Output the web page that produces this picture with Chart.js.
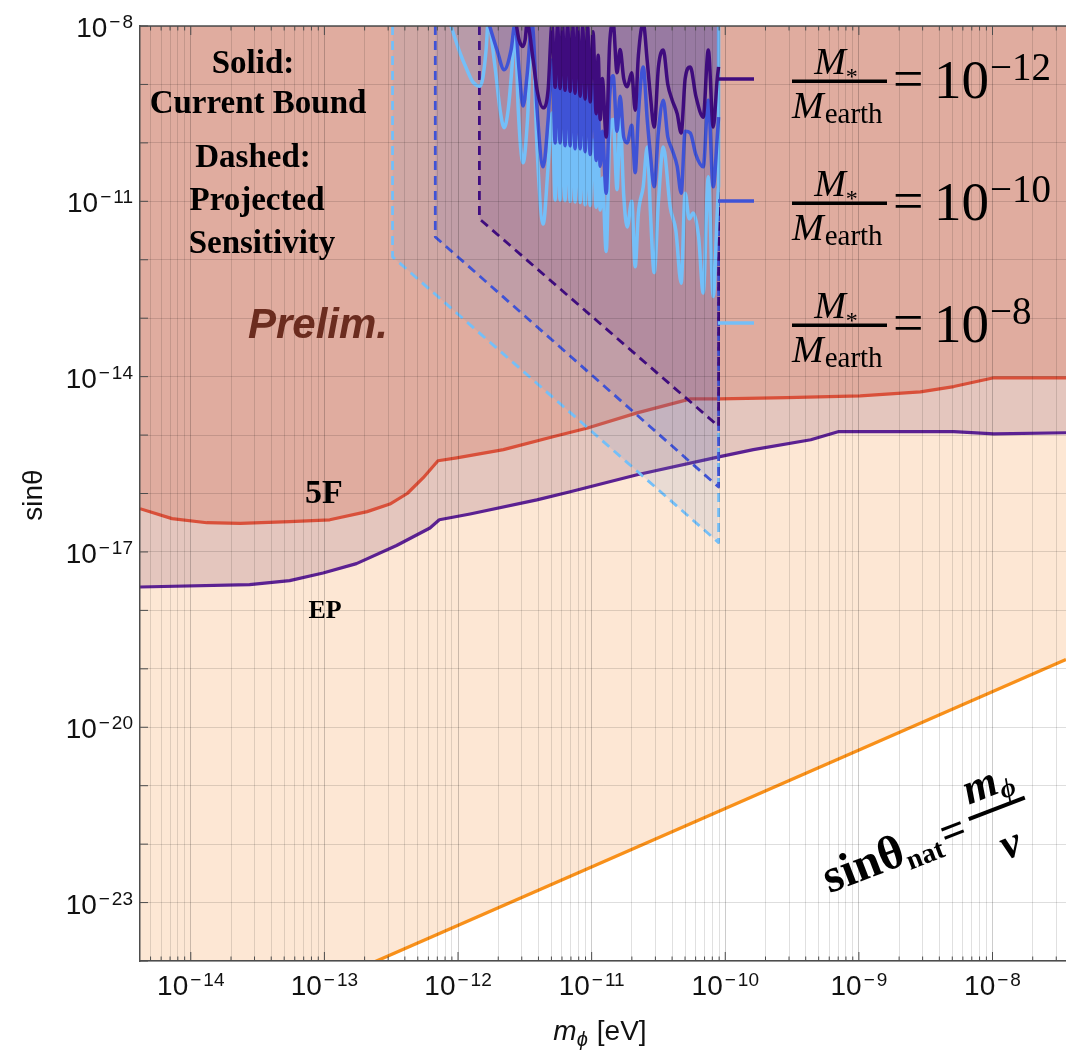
<!DOCTYPE html>
<html>
<head>
<meta charset="utf-8">
<script src="https://cdn.jsdelivr.net/npm/chart.js@4.4.0/dist/chart.umd.min.js"></script>
<style>
  html, body { margin: 0; padding: 0; background: #fff; }
</style>
</head>
<body>
<canvas id="bounds" width="1066" height="1054"></canvas>
<script>
// all values are log10 of (m_phi [eV], sin theta)
const xRangeExp = [-14.38, -7.45];
const yRangeExp = [-24, -8];
const xLabelExps = [-14, -13, -12, -11, -10, -9, -8];
const yLabelExps = [-8, -11, -14, -17, -20, -23];

// fifth force (5F) bound
const fifthForce = [[-14.38,-16.26],[-14.14,-16.43],[-13.88,-16.50],[-13.63,-16.51],[-13.26,-16.48],
  [-12.96,-16.45],[-12.68,-16.31],[-12.51,-16.18],[-12.38,-16.00],[-12.26,-15.73],[-12.15,-15.44],
  [-12.01,-15.39],[-11.66,-15.25],[-11.29,-15.03],[-11.03,-14.88],[-10.66,-14.62],[-10.26,-14.38],
  [-10.04,-14.38],[-9.54,-14.36],[-8.99,-14.33],[-8.54,-14.26],[-8.29,-14.17],[-7.99,-14.02],[-7.45,-14.02]];

// equivalence principle (EP) bound
const equivPrinciple = [[-14.38,-17.60],[-13.56,-17.56],[-13.26,-17.49],[-13.01,-17.36],[-12.76,-17.20],
  [-12.46,-16.89],[-12.21,-16.59],[-12.14,-16.45],[-11.91,-16.35],[-11.41,-16.11],[-11.16,-15.97],
  [-10.66,-15.68],[-10.04,-15.37],[-9.79,-15.25],[-9.36,-15.08],[-9.15,-14.94],[-8.29,-14.94],
  [-7.99,-14.98],[-7.45,-14.96]];

// sin(theta)_nat = m_phi / v
const naturalLine = [[-14.38,-25.77],[-7.45,-18.84]];

// projected sensitivity (dashed)
const projected8 = [[-12.49,-8],[-12.49,-11.95],[-10.05,-16.84],[-10.05,-8]];
const projected10 = [[-12.17,-8],[-12.17,-11.61],[-10.05,-15.89],[-10.05,-8]];
const projected12 = [[-11.84,-8],[-11.84,-11.30],[-10.05,-14.85],[-10.05,-8]];

// current bounds (solid)
const current8 = [[-12.06,-7.95],[-11.985,-8.46],[-11.933,-8.75],[-11.888,-8.96],[-11.835,-9.03],[-11.813,-8.87],
  [-11.79,-8.41],[-11.775,-7.95],[-11.723,-8.70],[-11.685,-9.44],[-11.655,-9.74],[-11.625,-9.44],[-11.596,-8.70],
  [-11.573,-7.95],[-11.55,-9.40],[-11.513,-10.34],[-11.48,-9.60],[-11.446,-7.95],[-11.408,-10.12],[-11.363,-11.39],
  [-11.326,-10.41],[-11.296,-9.49],[-11.273,-10.98],[-11.255,-9.75],[-11.236,-10.98],[-11.218,-9.80],[-11.199,-10.99],
  [-11.18,-9.80],[-11.161,-11.00],[-11.142,-9.85],[-11.124,-11.01],[-11.105,-9.90],[-11.086,-11.02],[-11.067,-9.90],
  [-11.049,-11.06],[-11.03,-9.95],[-11.011,-11.07],[-10.99,-9.95],[-10.966,-11.10],[-10.951,-10.30],[-10.936,-11.15],
  [-10.92,-10.60],[-10.891,-11.86],[-10.865,-9.90],[-10.839,-9.60],[-10.81,-10.80],[-10.787,-9.60],[-10.76,-10.90],
  [-10.734,-11.44],[-10.70,-11.00],[-10.674,-12.12],[-10.65,-11.20],[-10.614,-10.75],[-10.584,-10.07],[-10.56,-11.20],
  [-10.532,-12.22],[-10.50,-11.00],[-10.464,-10.07],[-10.412,-11.10],[-10.37,-11.50],[-10.33,-12.40],[-10.30,-10.86],
  [-10.27,-11.30],[-10.24,-11.20],[-10.20,-11.60],[-10.165,-12.57],[-10.127,-10.58],[-10.09,-12.63],[-10.06,-11.20],
  [-10.05,-10.75],[-10.05,-7.95]];

const current10 = [[-11.77,-7.95],[-11.708,-8.41],[-11.655,-8.75],[-11.603,-8.41],[-11.573,-7.95],
  [-11.543,-8.75],[-11.513,-9.37],[-11.483,-8.84],[-11.446,-7.95],[-11.408,-9.44],[-11.363,-10.41],[-11.326,-9.61],
  [-11.296,-8.58],[-11.273,-10.00],[-11.255,-8.70],[-11.236,-10.00],[-11.218,-8.75],[-11.199,-10.05],[-11.18,-8.80],
  [-11.161,-10.05],[-11.142,-8.85],[-11.124,-10.10],[-11.105,-8.90],[-11.086,-10.10],[-11.067,-8.90],[-11.049,-10.15],
  [-11.03,-8.95],[-11.011,-10.20],[-10.99,-9.00],[-10.966,-10.30],[-10.951,-9.30],[-10.936,-10.40],[-10.92,-9.80],
  [-10.891,-10.86],[-10.865,-9.20],[-10.839,-8.85],[-10.81,-9.80],[-10.787,-9.20],[-10.76,-9.90],[-10.734,-10.00],
  [-10.70,-9.70],[-10.674,-10.51],[-10.65,-9.50],[-10.614,-8.70],[-10.584,-9.60],[-10.56,-10.20],[-10.532,-10.75],
  [-10.50,-9.80],[-10.464,-9.27],[-10.43,-9.90],[-10.397,-10.12],[-10.36,-10.40],[-10.33,-10.86],[-10.30,-9.80],
  [-10.262,-9.83],[-10.22,-10.20],[-10.165,-10.41],[-10.127,-9.27],[-10.09,-10.75],[-10.06,-9.90],[-10.05,-9.56]];

const current12 = [[-11.566,-7.95],[-11.543,-8.24],[-11.515,-8.35],[-11.498,-8.24],[-11.483,-7.95],
  [-11.438,-8.58],[-11.408,-9.10],[-11.363,-9.40],[-11.326,-9.10],[-11.296,-7.95],[-11.273,-9.05],[-11.255,-7.95],
  [-11.236,-9.07],[-11.218,-7.95],[-11.199,-9.10],[-11.18,-7.95],[-11.161,-9.12],[-11.142,-7.95],[-11.124,-9.15],
  [-11.105,-7.95],[-11.086,-9.20],[-11.067,-8.00],[-11.049,-9.25],[-11.03,-8.00],[-11.011,-9.30],[-10.99,-8.10],
  [-10.966,-9.50],[-10.951,-8.50],[-10.936,-9.60],[-10.92,-8.90],[-10.891,-9.90],[-10.865,-8.30],[-10.839,-7.95],
  [-10.81,-8.80],[-10.787,-8.40],[-10.76,-8.90],[-10.734,-9.04],[-10.70,-8.80],[-10.674,-9.44],[-10.65,-8.50],
  [-10.614,-7.95],[-10.584,-8.60],[-10.56,-9.20],[-10.532,-9.73],[-10.50,-8.70],[-10.464,-8.41],[-10.43,-9.00],
  [-10.397,-9.27],[-10.36,-9.50],[-10.33,-9.83],[-10.30,-8.90],[-10.262,-8.70],[-10.22,-9.20],[-10.165,-9.56],
  [-10.127,-8.41],[-10.09,-9.73],[-10.06,-8.90],[-10.05,-8.70]];

const legendExps = [-12, -10, -8];

const C_PURPLE = '#3f0c7e', C_BLUE = '#3f53d6', C_LIGHT = '#74bff8';
const SANS = '"Liberation Sans", Arial, sans-serif';
const SERIF = '"Liberation Serif", "Times New Roman", serif';

const toPts = arr => arr.map(([a, b]) => ({ x: Math.pow(10, a), y: Math.pow(10, b) }));
const isDecade = v => { const l = Math.log10(v); return Math.abs(l - Math.round(l)) < 1e-6; };

const xTicks = [];
for (let d = -15; d <= -8; d++) {
  for (let k = 1; k <= 9; k++) {
    const v = k * Math.pow(10, d);
    if (v >= Math.pow(10, xRangeExp[0]) && v <= Math.pow(10, xRangeExp[1])) xTicks.push(v);
  }
}
const yTicks = [];
for (let d = yRangeExp[0]; d <= yRangeExp[1]; d++) yTicks.push(Math.pow(10, d));

function line(data, color, width, extra) {
  return Object.assign({
    data: toPts(data), borderColor: color, borderWidth: width, pointRadius: 0,
    tension: 0, fill: false, borderJoinStyle: 'round'
  }, extra || {});
}

// draw a run of text pieces left to right
function runWidth(ctx, parts) {
  let w = 0;
  parts.forEach(p => { ctx.font = p.font; w += ctx.measureText(p.t).width + (p.gap || 0); });
  return w;
}
function run(ctx, parts, x, y) {
  ctx.textAlign = 'left';
  parts.forEach(p => {
    ctx.font = p.font;
    ctx.fillText(p.t, x, y + (p.dy || 0));
    x += ctx.measureText(p.t).width + (p.gap || 0);
  });
}

const decor = {
  id: 'decor',
  afterDraw(chart) {
    const { ctx, chartArea: a, scales: { x, y } } = chart;
    ctx.save();
    ctx.textBaseline = 'alphabetic';

    // frame top + inward ticks
    ctx.strokeStyle = '#4d4d4d';
    ctx.lineWidth = 1.5;
    ctx.beginPath(); ctx.moveTo(a.left, a.top); ctx.lineTo(a.right, a.top); ctx.stroke();
    ctx.lineWidth = 1;
    xTicks.forEach(v => {
      const px = x.getPixelForValue(v);
      const len = isDecade(v) ? 9 : 4.5;
      ctx.beginPath();
      ctx.moveTo(px, a.bottom); ctx.lineTo(px, a.bottom - len);
      ctx.moveTo(px, a.top); ctx.lineTo(px, a.top + len);
      ctx.stroke();
    });
    yTicks.forEach(v => {
      const py = y.getPixelForValue(v);
      ctx.beginPath(); ctx.moveTo(a.left, py); ctx.lineTo(a.left + 8, py); ctx.stroke();
    });

    // tick labels 10^n
    ctx.fillStyle = '#111';
    const baseFont = '28px ' + SANS, supFont = '19px ' + SANS;
    const powParts = e => [
      { t: '10', font: baseFont, dy: 0, gap: 2 },
      { t: '\u2212', font: supFont, dy: -9, gap: 2 },
      { t: String(Math.abs(e)), font: supFont, dy: -9 }
    ];
    xLabelExps.forEach(e => {
      const px = x.getPixelForValue(Math.pow(10, e));
      const parts = powParts(e);
      run(ctx, parts, px - runWidth(ctx, parts) / 2, a.bottom + 34);
    });
    yLabelExps.forEach(e => {
      const py = y.getPixelForValue(Math.pow(10, e));
      const parts = powParts(e);
      run(ctx, parts, a.left - 7 - runWidth(ctx, parts), py + 11);
    });

    // axis titles
    const xt = [
      { t: 'm', font: 'italic 28px ' + SANS },
      { t: '\u03d5', font: 'italic 20px ' + SANS, dy: 6, gap: 9 },
      { t: '[eV]', font: '28px ' + SANS }
    ];
    run(ctx, xt, 600 - runWidth(ctx, xt) / 2, 1040);
    ctx.save();
    ctx.translate(42, 495);
    ctx.rotate(-Math.PI / 2);
    ctx.font = '28px ' + SANS;
    ctx.textAlign = 'center';
    ctx.fillText('sin\u03b8', 0, 0);
    ctx.restore();

    // annotations
    ctx.fillStyle = '#000';
    ctx.textAlign = 'center';
    ctx.font = 'bold 33px ' + SERIF;
    ctx.fillText('Solid:', 253, 73);
    ctx.fillText('Current Bound', 258, 113);
    ctx.fillText('Dashed:', 253, 167);
    ctx.fillText('Projected', 257, 210);
    ctx.fillText('Sensitivity', 262, 253);
    ctx.fillStyle = '#6b2c1f';
    ctx.font = 'italic bold 42px ' + SANS;
    ctx.fillText('Prelim.', 318, 338);
    ctx.fillStyle = '#000';
    ctx.font = 'bold 34px ' + SERIF;
    ctx.fillText('5F', 324, 503);
    ctx.font = 'bold 26px ' + SERIF;
    ctx.fillText('EP', 325, 618);

    // sin(theta)_nat = m_phi / v, along the orange line
    ctx.save();
    ctx.translate(953, 831);
    ctx.rotate(-21 * Math.PI / 180);
    ctx.font = 'bold 44px ' + SERIF;
    ctx.textAlign = 'center';
    ctx.fillText('=', 0, 14);
    const lhs = [{ t: 'sin\u03b8', font: 'bold 48px ' + SERIF }, { t: 'nat', font: 'bold 28px ' + SERIF, dy: 7 }];
    run(ctx, lhs, -15 - runWidth(ctx, lhs), 14);
    ctx.fillRect(19, -7.5, 60, 4);
    const num = [{ t: 'm', font: 'italic bold 44px ' + SERIF }, { t: '\u03d5', font: 'italic bold 27px ' + SERIF, dy: 7 }];
    run(ctx, num, 49 - runWidth(ctx, num) / 2, -19);
    ctx.font = 'italic bold 44px ' + SERIF;
    ctx.textAlign = 'center';
    ctx.fillText('v', 49, 46);
    ctx.restore();

    // legend
    const rows = [79, 201, 323];
    const colors = [C_PURPLE, C_BLUE, C_LIGHT];
    rows.forEach((y0, i) => {
      ctx.strokeStyle = colors[i];
      ctx.lineWidth = 3.5;
      ctx.beginPath(); ctx.moveTo(718, y0); ctx.lineTo(754, y0); ctx.stroke();
      ctx.fillStyle = '#000';
      ctx.fillRect(792, y0 + 0.5, 95, 3.5);
      const top = [{ t: 'M', font: 'italic 38px ' + SERIF, dy: 0 }, { t: '*', font: '24px ' + SERIF, dy: 10 }];
      run(ctx, top, 836 - runWidth(ctx, top) / 2, y0 - 5);
      run(ctx, [{ t: 'M', font: 'italic 38px ' + SERIF, gap: 1 }, { t: 'earth', font: '29px ' + SERIF, dy: 5 }], 792, y0 + 39);
      ctx.font = '54px ' + SERIF;
      ctx.fillText('=', 893, y0 + 18);
      run(ctx, [
        { t: '10', font: '55px ' + SERIF, gap: 1 },
        { t: '\u2212' + Math.abs(legendExps[i]), font: '39px ' + SERIF, dy: -18 }
      ], 934, y0 + 19);
    });
    ctx.restore();
  }
};

const smooth = { cubicInterpolationMode: 'monotone' };

new Chart(document.getElementById('bounds'), {
  type: 'line',
  data: {
    datasets: [
      line(current12, C_PURPLE, 3.5, Object.assign({ fill: 'end', backgroundColor: 'rgba(63,12,126,0.10)', order: 1 }, smooth)),
      line(current10, C_BLUE, 3.5, Object.assign({ fill: 'end', backgroundColor: 'rgba(63,83,214,0.08)', order: 2 }, smooth)),
      line(current8, C_LIGHT, 3.5, Object.assign({ fill: 'end', backgroundColor: 'rgba(90,130,200,0.08)', order: 3 }, smooth)),
      line(projected12, C_PURPLE, 2.8, { borderDash: [9, 6], fill: 'end', backgroundColor: 'rgba(80,20,110,0.12)', order: 4 }),
      line(projected10, C_BLUE, 2.8, { borderDash: [9, 6], fill: 'end', backgroundColor: 'rgba(65,80,190,0.10)', order: 5 }),
      line(projected8, C_LIGHT, 2.8, { borderDash: [9, 6], fill: 'end', backgroundColor: 'rgba(110,150,205,0.14)', order: 6 }),
      line(fifthForce, '#d9503a', 3.2, { fill: 'end', backgroundColor: '#e0ac9f', order: 7 }),
      line(equivPrinciple, '#5b2192', 3.2, { fill: 'end', backgroundColor: '#e4c6be', order: 8 }),
      line(naturalLine, '#f8901a', 3.3, { fill: 'end', backgroundColor: '#fde7d4', order: 9 })
    ]
  },
  options: {
    responsive: false,
    animation: false,
    events: [],
    layout: { padding: { left: 140, right: 0, top: 26, bottom: 93 } },
    plugins: { legend: { display: false }, tooltip: { enabled: false } },
    scales: {
      x: {
        type: 'logarithmic',
        min: Math.pow(10, xRangeExp[0]), max: Math.pow(10, xRangeExp[1]),
        bounds: 'data',
        afterBuildTicks: s => { s.ticks = xTicks.map(v => ({ value: v })); },
        afterFit: s => { s.height = 0; s.paddingLeft = 0; s.paddingRight = 0; },
        ticks: { display: false, callback: () => '' },
        grid: {
          z: 1, drawTicks: false, lineWidth: 1,
          color: c => (c.tick && isDecade(c.tick.value)) ? 'rgba(0,0,0,0.2)' : 'rgba(0,0,0,0.12)'
        },
        border: { display: true, color: '#4d4d4d', width: 1.5, z: 2 }
      },
      y: {
        type: 'logarithmic',
        min: Math.pow(10, yRangeExp[0]), max: Math.pow(10, yRangeExp[1]),
        bounds: 'data',
        afterBuildTicks: s => { s.ticks = yTicks.map(v => ({ value: v })); },
        afterFit: s => { s.width = 0; s.paddingTop = 0; s.paddingBottom = 0; },
        ticks: { display: false, callback: () => '' },
        grid: { z: 1, drawTicks: false, lineWidth: 1, color: 'rgba(0,0,0,0.13)' },
        border: { display: true, color: '#4d4d4d', width: 1.5, z: 2 }
      }
    }
  },
  plugins: [decor]
});
</script>
</body>
</html>
